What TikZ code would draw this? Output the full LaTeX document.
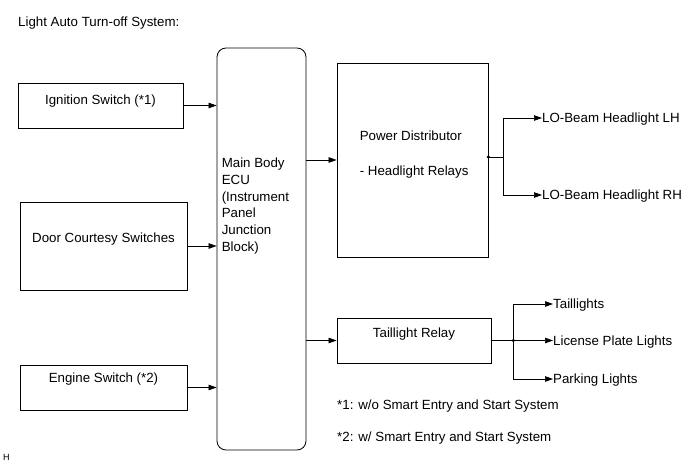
\documentclass[tikz,border=0pt]{standalone}
\usepackage{fontspec}
\setmainfont{Liberation Sans}
\usetikzlibrary{arrows.meta, positioning}

\begin{document}
\begin{tikzpicture}[
  x=1pt, y=-1pt,
  font=\fontsize{13.3}{16.8}\selectfont,
  box/.style={draw, line width=0.8pt, inner sep=0pt, text height=9.5pt},
  swbox/.style={box, minimum width=167pt},
  ecubox/.style={draw, line width=0.8pt, rounded corners=9pt, minimum width=89pt, minimum height=402pt},
  txt/.style={inner sep=0pt, text height=9.5pt, text depth=0pt},
  mtxt/.style={inner sep=0pt, align=left},
  arr/.style={-{Triangle[length=8pt, width=5.5pt]}, line width=0.7pt},
  dot/.style={circle, fill, inner sep=0pt, minimum size=3.5pt},
]
\useasboundingbox (0,0) rectangle (691,465);

\node[txt, anchor=west] (title) at (18,22) {Light Auto Turn-off System:};

% switches
\node[box, minimum width=165pt, minimum height=45pt, text depth=11pt] (ign) at (100.5,105.5) {Ignition Switch (*1)};
\node[swbox, minimum height=88pt, text depth=16pt] (door) at (103.5,246) {Door Courtesy Switches};
\node[swbox, minimum height=45pt, text depth=19pt] (eng) at (103.5,387.5) {Engine Switch (*2)};

% ECU
\node[ecubox] (ecu) at (261.5,249) {};
\node[mtxt, below right=110pt and 5pt of ecu.north west] (ecutxt) {Main Body\\ECU\\(Instrument\\Panel\\Junction\\Block)};

% relays
\node[box, minimum width=151pt, minimum height=194pt] (pwr) at (412.5,160) {};
\node[mtxt, below right=68pt and 23pt of pwr.north west] (pwrtxt) {Power Distributor\\[18.2pt]- Headlight Relays};
\node[box, minimum width=154pt, minimum height=45pt, text depth=15pt] (tlr) at (414,340.5) {Taillight Relay};

% loads
\node[txt, anchor=west] (lh) at (542,118) {LO-Beam Headlight LH};
\node[txt, anchor=west] (rh) at (542,195) {LO-Beam Headlight RH};
\node[txt, anchor=west] (tail) at (553,304) {Taillights};
\node[txt, anchor=west] (lic) at (553,340.5) {License Plate Lights};
\node[txt, anchor=west] (park) at (553,379) {Parking Lights};

% notes
\node[txt, anchor=west] (n1) at (337,405) {*1: w/o Smart Entry and Start System};
\node[txt, anchor=west] (n2) at (337,437) {*2: w/ Smart Entry and Start System};
\node[inner sep=0pt, anchor=west, font=\fontsize{9}{10}\selectfont] (hmark) at (3,457) {H};

\draw[arr] (ign.east) -- (ign.east -| ecu.west);
\draw[arr] (door.east) -- (door.east -| ecu.west);
\draw[arr] (eng.east) -- (eng.east -| ecu.west);
\draw[arr] (ecu.east |- pwr.west) -- (pwr.west);
\draw[arr] (ecu.east |- tlr.west) -- (tlr.west);

\node[dot] (hdot) at ([yshift=3pt]pwr.east) {};
\coordinate (hsplit) at ([xshift=15pt]hdot.center);
\draw[line width=0.7pt] (hdot.center) -- (hsplit);
\draw[arr] (hsplit) |- (lh.west);
\draw[arr] (hsplit) |- (rh.west);

\node[dot] (tdot) at ([xshift=22pt]tlr.east) {};
\draw[line width=0.7pt] (tlr.east) -- (tdot.center);
\draw[arr] (tdot.center) -- (lic.west);
\draw[arr] (tdot.center) |- (tail.west);
\draw[arr] (tdot.center) |- (park.west);
\end{tikzpicture}
\end{document}
